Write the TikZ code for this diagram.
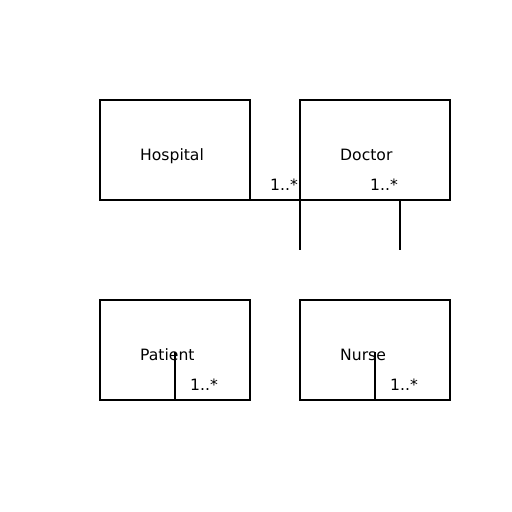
\documentclass[tikz,border=0pt]{standalone}
\usepackage{fontspec}
\setmainfont{DejaVu Sans}
\begin{document}
\begin{tikzpicture}[x=1pt,y=-1pt,
  cls/.style={draw=black,line width=1.5pt,minimum width=150pt,minimum height=100pt,inner sep=0pt,outer sep=0pt,anchor=north west},
  lbl/.style={anchor=base west,inner sep=0pt,font=\fontsize{15.6pt}{18pt}\selectfont},
  conn/.style={draw=black,line width=1.5pt}]
\useasboundingbox (0,0) rectangle (512,512);
\node[cls] (hospital) at (100,100) {};
\node[cls] (doctor) at (300,100) {};
\node[cls] (patient) at (100,300) {};
\node[cls] (nurse) at (300,300) {};
\node[lbl] (thospital) at (140,160) {Hospital};
\node[lbl] (tdoctor) at (340,160) {Doctor};
\node[lbl] (tpatient) at (140,360) {Patient};
\node[lbl] (tnurse) at (340,360) {Nurse};
\coordinate (e1) at (300,250);
\coordinate (d2) at (400,200);
\coordinate (e2) at (400,250);
\coordinate (p1) at (175,352);
\coordinate (p2) at (175,400);
\coordinate (n1) at (375,352);
\coordinate (n2) at (375,400);
\draw[conn] (hospital.south east) -- (doctor.south west) -- (e1);
\draw[conn] (d2) -- (e2);
\draw[conn] (p1) -- (p2);
\draw[conn] (n1) -- (n2);
\node[lbl] (m1) at (270,190) {1..*};
\node[lbl] (m2) at (370,190) {1..*};
\node[lbl] (m3) at (190,390) {1..*};
\node[lbl] (m4) at (390,390) {1..*};
\end{tikzpicture}
\end{document}
